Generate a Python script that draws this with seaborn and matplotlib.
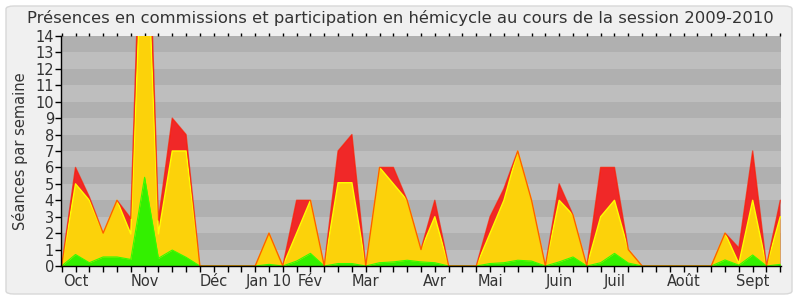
import numpy as np
import pandas as pd
import matplotlib
matplotlib.use("Agg")
import matplotlib.pyplot as plt
import seaborn as sns
from matplotlib.patches import FancyBboxPatch

# --- data (weekly, session 2009-2010) ---
weeks = list(range(53))
total = [0, 6, 4.2, 2, 4, 2.9, 29, 2.8, 9, 8,
         0, 0, 0, 0, 0, 2, 0, 4, 4, 0,
         7, 8, 0, 6, 6, 4, 1, 4, 0, 0,
         0, 3, 4.7, 7, 4, 0, 5, 3.1, 0, 6,
         6, 1, 0, 0, 0, 0, 0, 0, 2, 1.1,
         7, 0, 4]
hemicycle = [0, 5, 4.0, 2, 4, 1.95, 24, 1.95, 7, 7,
             0, 0, 0, 0, 0, 2, 0, 2, 4, 0,
             5.07, 5.07, 0, 6, 5, 4, 1, 3, 0, 0,
             0, 2, 4, 7, 4, 0, 4, 3.1, 0, 3,
             4, 1, 0, 0, 0, 0, 0, 0, 2, 0.15,
             4, 0, 3]
commission = [0, 0.7, 0.2, 0.55, 0.55, 0.4, 5.4, 0.47, 0.97, 0.53,
              0, 0, 0, 0, 0, 0.1, 0, 0.3, 0.77, 0,
              0.15, 0.15, 0, 0.2, 0.25, 0.35, 0.25, 0.2, 0, 0,
              0, 0.15, 0.2, 0.35, 0.3, 0, 0.25, 0.55, 0, 0.2,
              0.77, 0.18, 0, 0, 0, 0, 0, 0, 0.37, 0.05,
              0.67, 0, 0.1]
month_pos = [1, 6, 11, 15, 18, 22, 27, 31, 36, 40, 45, 50]
month_labels = ["Oct", "Nov", "Déc", "Jan 10", "Fév", "Mar", "Avr", "Mai",
                "Juin", "Juil", "Août", "Sept"]
y_ticks = list(range(0, 15))

df = pd.DataFrame({"week": weeks, "total": total,
                   "hemicycle": hemicycle, "commission": commission})

sns.set_style("white")
plt.rcParams["font.family"] = ["DejaVu Sans"]

fig = plt.figure(figsize=(8, 3), dpi=100, facecolor="white")
panel = FancyBboxPatch((6 / 800, 6 / 300), 786 / 800, 288 / 300,
                       boxstyle="round,pad=0,rounding_size=0.01",
                       transform=fig.transFigure, facecolor="#f0f0f0",
                       edgecolor="#d8d8d8", linewidth=1, zorder=-5)
fig.patches.append(panel)

ax = fig.add_axes([61 / 800, 34 / 300, 720 / 800, 230 / 300], zorder=1)
ax.set_facecolor("#bebebe")
for k in range(1, 14, 2):
    ax.axhspan(k, k + 1, color="#b0b0b0", lw=0, zorder=0)

x = df["week"]
ax.fill_between(x, 0, df["total"], color="#f02828", lw=0, zorder=2)
ax.fill_between(x, 0, df["hemicycle"], color="#fcd20a", lw=0, zorder=3)
ax.fill_between(x, 0, df["commission"], color="#33f000", lw=0, zorder=4)
sns.lineplot(data=df, x="week", y="hemicycle", color="#ffff00", lw=1.0,
             ax=ax, zorder=5)
sns.lineplot(data=df, x="week", y="total", color="#ff1a00", lw=1.0,
             alpha=0.7, ax=ax, zorder=6)
sns.lineplot(data=df, x="week", y="commission", color="#33ff00", lw=0.8,
             ax=ax, zorder=5)

ax.set_xlim(-0.05, 52.05)
ax.set_ylim(0, 14)
ax.set_yticks(y_ticks)
ax.set_yticklabels([str(v) for v in y_ticks], fontsize=10.5, color="#333333")
label_map = dict(zip(month_pos, month_labels))
ax.set_xticks(weeks)
ax.set_xticklabels([label_map.get(w, "") for w in weeks], fontsize=10.5,
                   color="#333333")
ax.tick_params(axis="x", bottom=True, length=4, width=1, color="black",
               direction="out", pad=2)
ax.tick_params(axis="y", left=True, length=4, width=1, color="black",
               direction="out", pad=1)
ax.set_xlabel("")
ax.set_ylabel("Séances par semaine", fontsize=10.5, color="#333333", labelpad=5)

for s in ["top", "right"]:
    ax.spines[s].set_visible(False)
for s in ["left", "bottom"]:
    ax.spines[s].set_color("black")
    ax.spines[s].set_linewidth(1)
    ax.spines[s].set_zorder(10)

top = ax.secondary_xaxis("top")
top.set_xticks(weeks)
top.set_xticklabels([])
top.tick_params(top=True, length=2, width=1, color="black", direction="out")
top.spines["top"].set_visible(False)

fig.text(0.5, 0.94, "Présences en commissions et participation en hémicycle "
         "au cours de la session 2009-2010", ha="center", va="center",
         fontsize=11.8, color="#333333")

fig.savefig("out.png", dpi=100, facecolor="white")
